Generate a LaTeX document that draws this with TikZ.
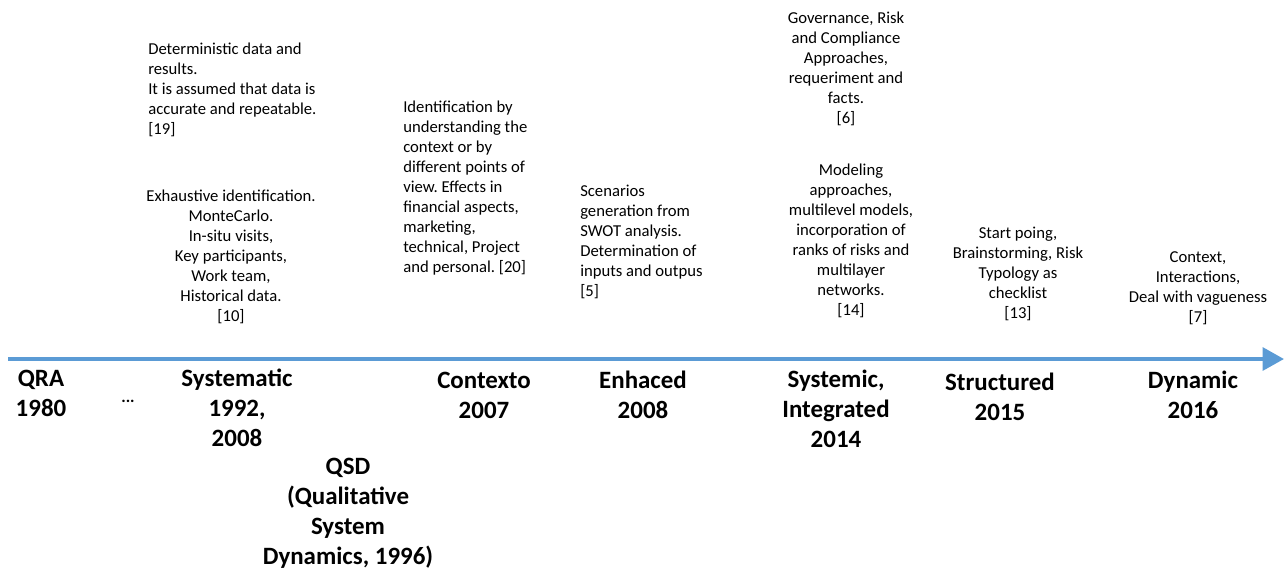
\documentclass[tikz,border=0pt]{standalone}
\usepackage{fontspec}
\setmainfont{Carlito}
\usepackage{tikz}
\usetikzlibrary{arrows.meta,positioning}
\definecolor{lineblue}{RGB}{91,155,213}
\newcommand{\notefont}{\fontsize{12.5}{15}\selectfont}
\newcommand{\stagefont}{\fontsize{18.7}{22.5}\selectfont\bfseries}
\frenchspacing

\begin{document}
\begin{tikzpicture}[x=0.75pt,y=-0.75pt,
	note/.style={font=\notefont, inner sep=0pt},
	stage/.style={font=\stagefont, inner sep=0pt, align=center}]
	\useasboundingbox (0,0) rectangle (1284,571);
	%
	% time line
	\coordinate (tstart) at (8,359);
	\coordinate (tend) at (1284,359);
	\draw[lineblue, line width=3pt, -{Triangle[length=16pt,width=17pt]}] (tstart) -- (tend);
	
	% stages below the line
	\node[stage] (qra) at (41,393) {QRA\\1980};
	\node[stage, font=\notefont\bfseries] (dots) at (128,401) {...};
	\node[stage] (systematic) at (237,408) {Systematic\\1992,\\2008};
	\node[stage] (qsd) at (348,513) {QSD\\(Qualitative\\System\\Dynamics, 1996)};
	\node[stage] (contexto) at (484,395) {Contexto\\2007};
	\node[stage] (enhaced) at (643,395) {Enhaced\\2008};
	\node[stage] (systemic) at (836,409) {Systemic,\\Integrated\\2014};
	\node[stage] (structured) at (1000,397) {Structured\\2015};
	\node[stage] (dynamic) at (1193,395) {Dynamic\\2016};
	
	% notes above the line
	\node[note, align=left, anchor=west] (deterministic) at (148,90)
		{Deterministic data and\\results.\\It is assumed that data is\\accurate and repeatable.\\{[19]}};
	\node[note, align=center] (exhaustive) at (231,257)
		{Exhaustive identification.\\MonteCarlo.\\In-situ visits,\\Key participants,\\Work team,\\Historical data.\\{[10]}};
	\node[note, align=left, anchor=west] (identification) at (403,188)
		{Identification by\\understanding the\\context or by\\different points of\\view. Effects in\\financial aspects,\\marketing,\\technical, Project\\and personal. [20]};
	\node[note, align=left, anchor=west] (scenarios) at (580,242)
		{Scenarios\\generation from\\SWOT analysis.\\Determination of\\inputs and outpus\\{[5]}};
	\node[note, align=center] (governance) at (846,69)
		{Governance, Risk\\and Compliance\\Approaches,\\requeriment and\\facts.\\{[6]}};
	\node[note, align=center] (modeling) at (851,241)
		{Modeling\\approaches,\\multilevel models,\\incorporation of\\ranks of risks and\\multilayer\\networks.\\{[14]}};
	\node[note, align=center] (startpoing) at (1018,274)
		{Start poing,\\Brainstorming, Risk\\Typology as\\checklist\\{[13]}};
	\node[note, align=center] (context) at (1198,288)
		{Context,\\Interactions,\\Deal with vagueness\\{[7]}};
\end{tikzpicture}
\end{document}
